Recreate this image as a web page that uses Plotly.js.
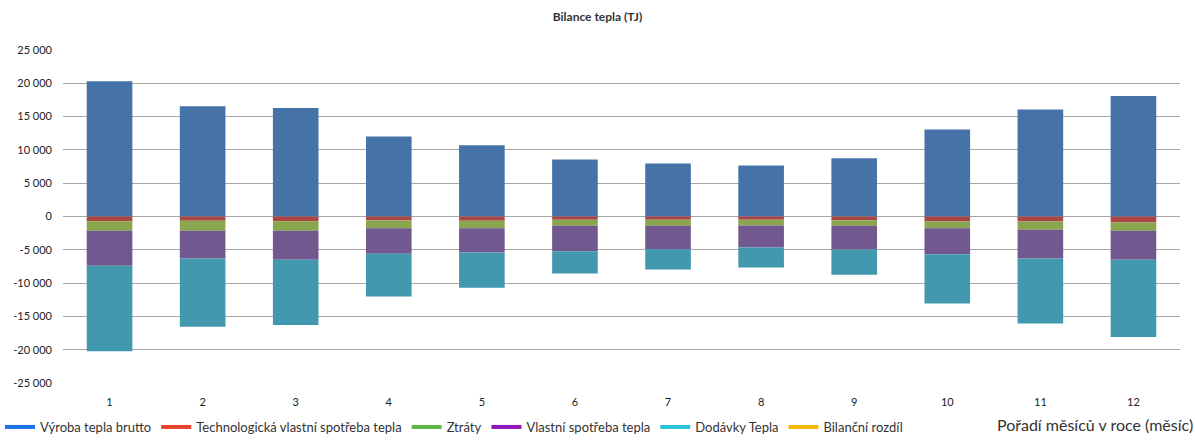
<!DOCTYPE html>
<html>
<head>
<meta charset="utf-8">
<script src="https://cdn.plot.ly/plotly-3.0.1.min.js"></script>
<style>html,body{margin:0;padding:0;background:#fff;}#chart{width:1195px;height:442px;}</style>
</head>
<body>
<div id="chart"></div>
<script>
const months = ['1','2','3','4','5','6','7','8','9','10','11','12'];
const vyroba = [20300, 16550, 16300, 12000, 10700, 8550, 7950, 7650, 8750, 13050, 16050, 18100];
const technologicka = [-700, -650, -700, -600, -650, -500, -500, -500, -550, -750, -750, -900];
const ztraty = [-1450, -1500, -1450, -1150, -1100, -900, -900, -850, -850, -1000, -1250, -1250];
const vlastni = [-5250, -4150, -4350, -3850, -3650, -3800, -3500, -3300, -3550, -3900, -4300, -4350];
const dodavky = [-12850, -10250, -9800, -6400, -5300, -3350, -3050, -3000, -3800, -7400, -9750, -11600];
const bilancni = [0, 0, 0, 0, 0, 0, 0, 0, 0, 0, 0, 0];
const seriesNames = ['Výroba tepla brutto', 'Technologická vlastní spotřeba tepla', 'Ztráty', 'Vlastní spotřeba tepla', 'Dodávky Tepla', 'Bilanční rozdíl'];
const yTickVals = [25000, 20000, 15000, 10000, 5000, 0, -5000, -10000, -15000, -20000, -25000];
const yTickText = ['25 000', '20 000', '15 000', '10 000', '5 000', '0', '-5 000', '-10 000', '-15 000', '-20 000', '-25 000'];

const barColors = ['#4572A7', '#AA4643', '#89A54E', '#71588F', '#4198AF', '#DB843D'];
const legendColors = ['#1C74E6', '#E8412C', '#5DB547', '#9116BA', '#2BC1DB', '#F2B705'];
const seriesData = [vyroba, technologicka, ztraty, vlastni, dodavky, bilancni];

const traces = [];
seriesData.forEach((vals, i) => {
  traces.push({
    type: 'bar', x: months, y: vals, name: seriesNames[i],
    marker: {color: barColors[i], line: {width: 0}},
    showlegend: false, hoverinfo: 'x+y+name'
  });
});
seriesData.forEach((vals, i) => {
  traces.push({
    type: 'scatter', mode: 'lines', x: [null], y: [null], name: seriesNames[i],
    line: {color: legendColors[i], width: 4}, showlegend: true, hoverinfo: 'skip'
  });
});

const layout = {
  width: 1195, height: 442,
  margin: {l: 63, r: 15, t: 50, b: 59, autoexpand: false},
  paper_bgcolor: '#fff', plot_bgcolor: '#fff',
  font: {family: 'Lato, "Open Sans", sans-serif', color: '#333', size: 11},
  title: {text: '<b>Bilance tepla (TJ)</b>', x: 0.5, xanchor: 'center', y: 0.962, yanchor: 'middle', font: {size: 12, color: '#333'}},
  barmode: 'relative', bargap: 0.51,
  xaxis: {
    type: 'category', showgrid: false, zeroline: false, showline: false,
    ticks: '', tickfont: {size: 11, color: '#222'}, ticklabelstandoff: 11
  },
  yaxis: {
    range: [-25000, 25000], tickvals: yTickVals, ticktext: yTickText,
    showgrid: true, gridcolor: '#a6a6a6', gridwidth: 1,
    zeroline: false, showline: false, ticks: '',
    tickfont: {size: 11, color: '#222'}, ticklabelstandoff: 10
  },
  showlegend: true,
  legend: {
    orientation: 'h', xref: 'container', yref: 'container',
    x: 0, xanchor: 'left', y: 0, yanchor: 'bottom',
    font: {size: 13, color: '#333'}, itemwidth: 30, tracegroupgap: 0,
    bgcolor: 'rgba(0,0,0,0)', traceorder: 'normal', itemclick: false
  },
  annotations: [{
    text: 'Pořadí měsíců v roce (měsíc)', xref: 'paper', yref: 'paper',
    x: 1.013, xanchor: 'right', y: -0.126, yanchor: 'middle', showarrow: false,
    font: {size: 16, color: '#333'}
  }]
};

Plotly.newPlot('chart', traces, layout, {displayModeBar: false, staticPlot: true});
</script>
</body>
</html>
